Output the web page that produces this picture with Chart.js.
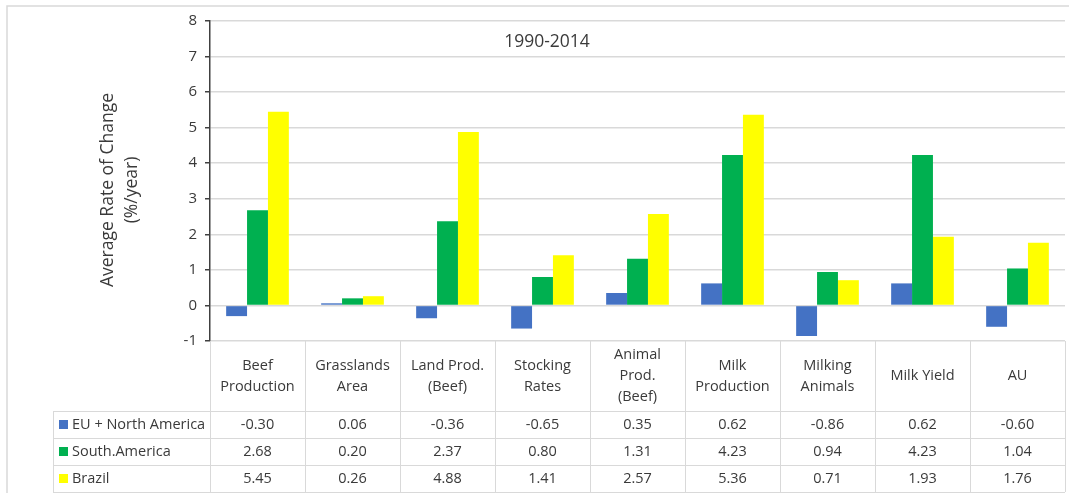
<!DOCTYPE html>
<html>
<head>
<meta charset="utf-8">
<script src="https://cdn.jsdelivr.net/npm/chart.js@4"></script>
<style>
  html, body { margin: 0; padding: 0; background: #ffffff; }
  #wrap { width: 1069px; height: 493px; }
</style>
</head>
<body>
<div id="wrap"><canvas id="chart" width="1069" height="493"></canvas></div>
<script>
const categories = [
    ["Beef", "Production"],
    ["Grasslands", "Area"],
    ["Land Prod.", "(Beef)"],
    ["Stocking", "Rates"],
    ["Animal", "Prod.", "(Beef)"],
    ["Milk", "Production"],
    ["Milking", "Animals"],
    ["Milk Yield"],
    ["AU"],
];
const seriesNames = ["EU + North America", "South.America", "Brazil"];
const euNorthAmerica = [-0.30, 0.06, -0.36, -0.65, 0.35, 0.62, -0.86, 0.62, -0.60];
const southAmerica = [2.68, 0.20, 2.37, 0.80, 1.31, 4.23, 0.94, 4.23, 1.04];
const brazil = [5.45, 0.26, 4.88, 1.41, 2.57, 5.36, 0.71, 1.93, 1.76];
const yTicks = [-1, 0, 1, 2, 3, 4, 5, 6, 7, 8];
const chartTitle = "1990-2014";
const yTitle = ["Average Rate of Change", "(%/year)"];

const COLORS = ["#4472C4", "#00B050", "#FFFF00"];
const TEXT = "#3a3a3a";
const LINE = "#d9d9d9";
const FONT = "'Open Sans', sans-serif";

// draws frame, title, y title and the data table below the plot
const tablePlugin = {
    id: "dataTable",
    beforeDraw(chart) {
        const ctx = chart.ctx;
        ctx.save();
        ctx.strokeStyle = LINE;
        ctx.lineWidth = 1.5;
        ctx.beginPath();
        ctx.moveTo(7, chart.height);
        ctx.lineTo(7, 6);
        ctx.lineTo(chart.width, 6);
        ctx.stroke();
        ctx.restore();
    },
    afterDraw(chart) {
        const ctx = chart.ctx;
        const area = chart.chartArea;
        const x = chart.scales.x;
        const colW = (area.right - area.left) / categories.length;
        const headerBottom = area.bottom + 70;
        const rowH = 27;
        const tableBottom = headerBottom + rowH * seriesNames.length;
        const legendLeft = 53;

        ctx.save();
        ctx.strokeStyle = LINE;
        ctx.lineWidth = 1;
        ctx.beginPath();
        for (let i = 0; i <= categories.length; i++) {
            const px = Math.round(area.left + colW * i) + 0.5;
            ctx.moveTo(px, area.bottom);
            ctx.lineTo(px, tableBottom);
        }
        for (let r = 0; r <= seriesNames.length; r++) {
            const py = Math.round(headerBottom + rowH * r) + 0.5;
            ctx.moveTo(legendLeft, py);
            ctx.lineTo(area.right, py);
        }
        ctx.moveTo(legendLeft + 0.5, headerBottom);
        ctx.lineTo(legendLeft + 0.5, tableBottom);
        ctx.stroke();

        ctx.fillStyle = TEXT;
        ctx.textAlign = "center";
        ctx.textBaseline = "middle";
        ctx.font = "14.5px " + FONT;
        const lineH = 21;
        const headerMid = (area.bottom + headerBottom) / 2;
        categories.forEach((lines, i) => {
            const cx = x.getPixelForValue(i);
            const startY = headerMid - (lines.length - 1) * lineH / 2;
            lines.forEach((line, j) => {
                ctx.fillText(line, cx, startY + j * lineH);
            });
        });

        chart.data.datasets.forEach((ds, r) => {
            const cy = headerBottom + rowH * r + rowH / 2;
            ctx.fillStyle = ds.backgroundColor;
            ctx.fillRect(legendLeft + 6, cy - 4.5, 9, 9);
            ctx.fillStyle = TEXT;
            ctx.textAlign = "left";
            ctx.fillText(ds.label, legendLeft + 19, cy);
            ctx.textAlign = "center";
            ds.data.forEach((v, i) => {
                ctx.fillText(v.toFixed(2), x.getPixelForValue(i), cy);
            });
        });

        ctx.font = "17.5px " + FONT;
        ctx.fillText(chartTitle, 547, area.top + 21);

        ctx.font = "17.5px " + FONT;
        ctx.translate(108, (area.top + area.bottom) / 2 + 9);
        ctx.rotate(-Math.PI / 2);
        yTitle.forEach((line, j) => {
            ctx.fillText(line, 0, j * 24);
        });
        ctx.restore();
    },
};

const DATA = {
    labels: categories,
    datasets: [euNorthAmerica, southAmerica, brazil].map((values, i) => ({
        label: seriesNames[i],
        data: values,
        backgroundColor: COLORS[i],
        borderWidth: 0,
        barPercentage: 1,
        categoryPercentage: 0.66,
    })),
};

const CONFIG = {
    type: "bar",
    data: DATA,
    options: {
        responsive: false,
        animation: false,
        layout: {
            padding: { left: 92, right: 4, top: 21, bottom: 152 },
        },
        plugins: {
            legend: { display: false },
            title: { display: false },
            tooltip: { enabled: false },
        },
        scales: {
            x: {
                display: false,
            },
            y: {
                min: yTicks[0],
                max: yTicks[yTicks.length - 1],
                afterBuildTicks: (axis) => {
                    axis.ticks = yTicks.map((v) => ({ value: v }));
                },
                afterFit: (axis) => {
                    axis.width = 118;
                },
                ticks: {
                    color: TEXT,
                    font: { family: FONT, size: 15 },
                    padding: 8,
                },
                grid: {
                    color: LINE,
                    lineWidth: 1.5,
                    tickColor: "#404040",
                    tickLength: 5,
                },
                border: {
                    color: "#404040",
                    width: 1.5,
                },
            },
        },
    },
    plugins: [tablePlugin],
};

new Chart(document.getElementById("chart"), CONFIG);
</script>
</body>
</html>
